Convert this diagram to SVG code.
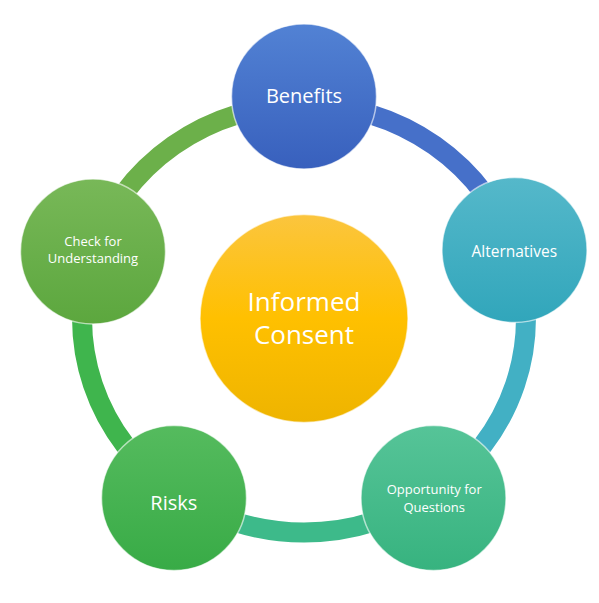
<svg xmlns="http://www.w3.org/2000/svg" width="599" height="603" viewBox="0 0 599 603">
  <defs>
    <linearGradient id="gBen" x1="0" y1="0" x2="0" y2="1"><stop offset="0" stop-color="#5282d4"/><stop offset="1" stop-color="#3860bd"/></linearGradient>
    <linearGradient id="gAlt" x1="0" y1="0" x2="0" y2="1"><stop offset="0" stop-color="#55b8ca"/><stop offset="1" stop-color="#31a6bb"/></linearGradient>
    <linearGradient id="gOpp" x1="0" y1="0" x2="0" y2="1"><stop offset="0" stop-color="#56c498"/><stop offset="1" stop-color="#37b37f"/></linearGradient>
    <linearGradient id="gRisk" x1="0" y1="0" x2="0" y2="1"><stop offset="0" stop-color="#55bb5e"/><stop offset="1" stop-color="#38ab46"/></linearGradient>
    <linearGradient id="gChk" x1="0" y1="0" x2="0" y2="1"><stop offset="0" stop-color="#78b858"/><stop offset="1" stop-color="#5ca73e"/></linearGradient>
    <linearGradient id="gCen" x1="0" y1="0" x2="0" y2="1"><stop offset="0" stop-color="#fbc53e"/><stop offset="0.5" stop-color="#ffc000"/><stop offset="1" stop-color="#eeb400"/></linearGradient>
  </defs>
  <style>
    .arc { fill: none; stroke-width: 20; }
    .node { stroke: #ffffff; stroke-width: 1.5; stroke-opacity: 0.6; }
    .lbl { font-family: "Open Sans", "Noto Sans", sans-serif; fill: #ffffff; text-anchor: middle; }
  </style>
  <g id="connectors">
    <path class="arc" stroke="#4670c9" d="M 304 104.5 A 222 214 0 0 1 515.1 252.4"/>
    <path class="arc" stroke="#42b0c4" d="M 515.1 252.4 A 222 214 0 0 1 434.5 491.6"/>
    <path class="arc" stroke="#3dba8a" d="M 434.5 491.6 A 222 214 0 0 1 173.5 491.6"/>
    <path class="arc" stroke="#3fb54d" d="M 173.5 491.6 A 222 214 0 0 1 92.9 252.4"/>
    <path class="arc" stroke="#6cb04a" d="M 92.9 252.4 A 222 214 0 0 1 304 104.5"/>
  </g>
  <g id="center">
    <circle class="node" cx="304" cy="318.5" r="104" fill="url(#gCen)"/>
    <text class="lbl" x="304" y="310.7" font-size="26">Informed</text>
    <text class="lbl" x="304" y="344" font-size="26">Consent</text>
  </g>
  <g id="benefits">
    <circle class="node" cx="304" cy="96.5" r="72.5" fill="url(#gBen)"/>
    <text class="lbl" x="304" y="103.3" font-size="20">Benefits</text>
  </g>
  <g id="alternatives">
    <circle class="node" cx="514.5" cy="250" r="72.5" fill="url(#gAlt)"/>
    <text class="lbl" x="514.3" y="257.3" font-size="15.5">Alternatives</text>
  </g>
  <g id="opportunity">
    <circle class="node" cx="433.5" cy="498" r="72.5" fill="url(#gOpp)"/>
    <text class="lbl" x="434.2" y="494.2" font-size="13">Opportunity for</text>
    <text class="lbl" x="434.2" y="511.6" font-size="13">Questions</text>
  </g>
  <g id="risks">
    <circle class="node" cx="174" cy="498" r="72.5" fill="url(#gRisk)"/>
    <text class="lbl" x="173.8" y="510" font-size="20">Risks</text>
  </g>
  <g id="check">
    <circle class="node" cx="93" cy="251.5" r="72.5" fill="url(#gChk)"/>
    <text class="lbl" x="93" y="245.8" font-size="13">Check for</text>
    <text class="lbl" x="93" y="263.2" font-size="13">Understanding</text>
  </g>
</svg>
